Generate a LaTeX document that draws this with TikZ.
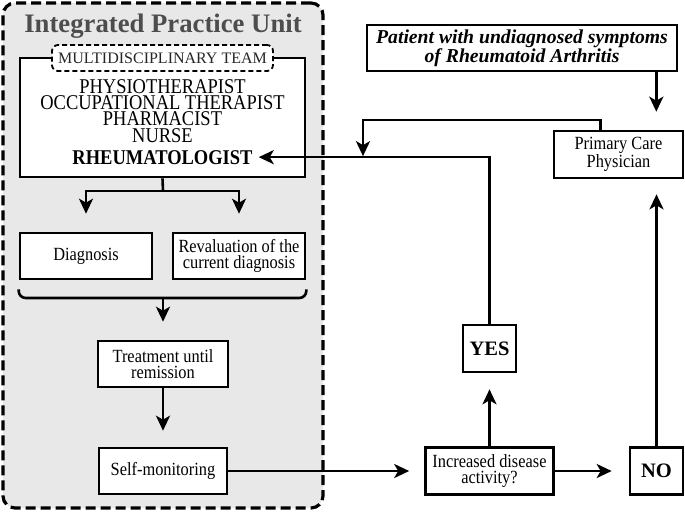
\documentclass[tikz,border=0pt]{standalone}
\usepackage{fontspec}
\setmainfont{Liberation Serif}
\newfontfamily\cond[FakeStretch=0.88]{Liberation Serif}
\usetikzlibrary{arrows.meta,calc}
\definecolor{unitgray}{HTML}{E8E8E8}
\definecolor{titlegray}{HTML}{4D4D4D}
\begin{document}
\begin{tikzpicture}[x=1pt,y=-1pt,
  box/.style={draw, line width=2.6pt, fill=white, inner sep=1pt, align=center,
              font=\cond\fontsize{18.6}{16}\selectfont},
  bigbold/.style={font=\bfseries\fontsize{20.5}{20}\selectfont},
  conn/.style={line width=2.6pt},
  arr/.style={conn, -{Stealth[length=15pt,width=14pt,inset=4pt]}},
]
\useasboundingbox (0,0) rectangle (685,512);
% Integrated practice unit frame
\node[draw, line width=3.2pt, dash pattern=on 10pt off 5pt, rounded corners=12pt,
      fill=unitgray, minimum width=320pt, minimum height=505pt, inner sep=0pt] (unit) at (163,255.5) {};
\node[anchor=base, inner sep=0pt, text=titlegray, font=\bfseries\fontsize{26.7}{30}\selectfont] (title) at (163,32) {Integrated Practice Unit};

% team box
\node[box, minimum width=285pt, minimum height=119pt] (team) at (162.5,117.5) {};
\node[draw, line width=1.8pt, dash pattern=on 5pt off 3pt, rounded corners=6pt, fill=white,
      minimum width=221pt, minimum height=26pt, inner sep=0pt, text=black!85,
      font=\fontsize{16}{16}\selectfont] (mdt) at (162.5,58) {MULTIDISCIPLINARY TEAM};
\node[anchor=north, inner sep=0pt, align=center, font=\cond\fontsize{21}{16.4}\selectfont] (staff) at (162.5,79)
      {PHYSIOTHERAPIST\\OCCUPATIONAL THERAPIST\\PHARMACIST\\NURSE};
\node[anchor=base, inner sep=0pt, font=\cond\bfseries\fontsize{21}{21}\selectfont] (rheum) at (162.5,164) {RHEUMATOLOGIST};

% inner boxes
\node[box, minimum width=132pt, minimum height=46pt] (diag) at (86,256) {Diagnosis};
\node[box, minimum width=132pt, minimum height=46pt] (reval) at (239,256) {Revaluation of the\\current diagnosis};
\node[box, minimum width=130pt, minimum height=46pt] (treat) at (163,364) {Treatment until\\remission};
\node[box, minimum width=128pt, minimum height=46pt] (self) at (163,471) {Self-monitoring};

% right side
\node[box, minimum width=128pt, minimum height=47pt] (incr) at (489.5,471) {Increased disease\\activity?};
\node[box, bigbold, minimum width=53pt, minimum height=47pt] (no) at (656.5,471) {NO};
\node[box, bigbold, minimum width=53pt, minimum height=47pt] (yes) at (489.5,348.5) {YES};
\node[box, minimum width=129pt, minimum height=47pt] (pcp) at (618.5,154.5) {Primary Care\\Physician};
\node[box, minimum width=310pt, minimum height=46pt,
      font=\bfseries\itshape\fontsize{19.7}{18}\selectfont] (patient) at (522,48)
      {Patient with undiagnosed symptoms\\of Rheumatoid Arthritis};

% coordinates
\coordinate (split) at (163,191);
\coordinate (brk) at (163,298);
\coordinate (mx) at (363,120);
\coordinate (merge) at (mx |- rheum.east);
\coordinate (pcpout) at ($(pcp.north west)+(48,0)$);
\coordinate (pin) at ($(patient.south east)+(-22,0)$);

% connectors
\draw[conn] (team.south) -- (split);
\draw[arr, shorten >=18pt] (split) -| (diag.north);
\draw[arr, shorten >=18pt] (split) -| (reval.north);
\draw[conn, rounded corners=7pt] ($(diag.south west)+(0,9)$) |- (brk) -| ($(reval.south east)+(0,9)$);
\draw[arr, shorten >=18pt] (brk) -- (treat.north);
\draw[arr, shorten >=16pt] (treat) -- (self);
\draw[arr, shorten >=15pt] (self) -- (incr);
\draw[arr, shorten >=17pt] (incr) -- (no);
\draw[arr, shorten >=16pt] (incr) -- (yes);
\draw[arr, shorten >=6pt] (yes) |- (rheum.east);
\draw[arr, shorten >=18pt] (pin) -- (pin |- pcp.north);
\draw[arr, shorten >=15pt] (no) -- (no |- pcp.south);
\draw[arr, shorten >=1pt] (pcpout) |- (mx) -- (merge);
\end{tikzpicture}
\end{document}
